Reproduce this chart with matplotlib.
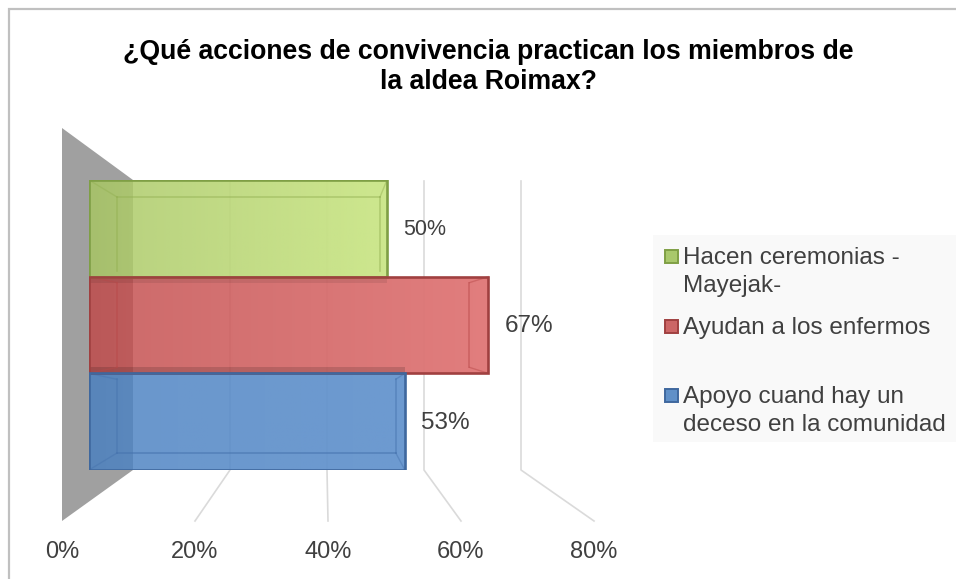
"""Barras horizontales estilo 3D: acciones de convivencia en la aldea Roimax."""

import matplotlib

matplotlib.use("Agg")
matplotlib.rcParams["font.family"] = ["Liberation Sans", "DejaVu Sans"]
import matplotlib.patches as mpatches
import matplotlib.pyplot as plt
import numpy as np
from matplotlib.colors import to_rgba

TITLE = "¿Qué acciones de convivencia practican los miembros de\nla aldea Roimax?"
categories = ["Hacen ceremonias -\nMayejak-", "Ayudan a los enfermos", "Apoyo cuand hay un\ndeceso en la comunidad"]
values = [50, 67, 53]
value_labels = ["50%", "67%", "53%"]
label_sizes = [15.5, 17.5, 17.5]
ticks = [0, 20, 40, 60, 80]
tick_labels = ["0%", "20%", "40%", "60%", "80%"]

faces = ["#A8C662", "#C14949", "#4980C1"]
swatches = ["#A9C86C", "#CC6666", "#6090C8"]
edges = ["#7F9F45", "#A04040", "#3F689E"]
inner = ["#93B052", "#B84848", "#4673AE"]
shine = ["#D0EA90", "#E48080", "#6E9BD1"]
legend_y = [258, 328, 397]
TEXT = "#404040"

W, H = 956, 579
# pixeles del plano frontal de las barras
X0, PX_PER_PCT = 89, 5.96
Y_TOP, Y_BOTTOM = 180, 470

fig = plt.figure(figsize=(W / 100, H / 100), dpi=100, facecolor="white")

# capa de fondo en pixeles: marco, pared, rejilla, titulo, leyenda
bg = fig.add_axes([0, 0, 1, 1])
bg.set_xlim(0, W)
bg.set_ylim(H, 0)
bg.axis("off")

bg.plot([9, 9, W], [H, 8.5, 8.5], color="#C0C0C0", lw=1.6, solid_joinstyle="miter")
bg.text(488, 67, TITLE, ha="center", va="center", fontsize=19.2, fontweight="bold", color="black", linespacing=1.2)

bg.add_patch(mpatches.Polygon([(62, 128), (133, 180), (133, 470), (62, 521)], facecolor="#A0A0A0", edgecolor="none"))

for t, lab in zip(ticks, tick_labels):
    back_x = 133 + 4.85 * t
    front_x = 62 + 6.65 * t
    if t > 0:
        bg.plot([back_x, back_x, front_x], [181, 470, 521], color="#DADADA", lw=1.2)
    bg.text(front_x, 552, lab, ha="center", va="center", fontsize=17, color=TEXT)

# leyenda
bg.add_patch(mpatches.Rectangle((653, 235), W - 653, 207, facecolor="#F9F9F9", edgecolor="none"))
for cat, y, f, e in zip(categories, legend_y, swatches, edges):
    bg.add_patch(mpatches.Rectangle((665, y - 8), 13, 13, facecolor=f, edgecolor=e, lw=1.4))
    for j, line in enumerate(cat.split("\n")):
        bg.text(683, y + j * 28, line, ha="left", va="center", fontsize=17.5, color=TEXT)

# barras sobre el plano frontal
ax = fig.add_axes([X0 / W, 1 - Y_BOTTOM / H, 100 * PX_PER_PCT / W, (Y_BOTTOM - Y_TOP) / H])
ax.patch.set_alpha(0)
ax.axis("off")

for i, (v, f, e, c, s) in enumerate(zip(values, faces, edges, inner, shine)):
    bar = ax.barh(i, v, height=1, color=to_rgba(f, 0.82), edgecolor="none", zorder=3)[0]
    # brillo hacia la derecha con el tono claro de cada barra
    rgba = np.tile(to_rgba(s), (1, 128, 1))
    rgba[..., 3] = np.linspace(0, 0.9, 128)
    im = ax.imshow(rgba, extent=(0, v, i + 0.5, i - 0.5), aspect="auto", zorder=3.1)
    im.set_clip_path(bar)

    # caja interior que da la profundidad
    in_l = 28 / PX_PER_PCT
    in_r = in_l + v * 5.26 / PX_PER_PCT
    in_t = i - 0.5 + (0.176 if i == 0 else 0.062)
    in_b = i + 0.5 - (0.176 if i == 2 else 0.062)
    ax.plot([in_l, in_l], [in_t, in_b], color=c, lw=1.2, alpha=0.5, zorder=4)
    ax.plot([in_r, in_r], [in_t, in_b], color=c, lw=1.2, alpha=0.5, zorder=4)
    if i == 0:
        ax.plot([in_l, in_r], [in_t, in_t], color=c, lw=1.2, alpha=0.5, zorder=4)
    if i == 2:
        ax.plot([in_l, in_r], [in_b, in_b], color=c, lw=1.2, alpha=0.6, zorder=4)
    for cx, ix in ((0, in_l), (v, in_r)):
        ax.plot([cx, ix], [i - 0.5, in_t], color=c, lw=1.0, alpha=0.45, zorder=4)
        if i > 0:
            ax.plot([cx, ix], [i + 0.5, in_b], color=c, lw=1.0, alpha=0.45, zorder=4)

    ax.annotate(
        value_labels[i],
        xy=(v, i),
        xytext=(11.5, -1),
        textcoords="offset points",
        ha="left",
        va="center",
        fontsize=label_sizes[i],
        color=TEXT,
    )

# franjas oscuras donde la barra roja se cruza con sus vecinas
ax.barh(1 - 0.469, min(values[0], values[1]), height=0.062, color="black", alpha=0.08, zorder=3.5)
ax.barh(1 + 0.469, min(values[2], values[1]), height=0.062, color="black", alpha=0.14, zorder=3.5)

# contornos encima del brillo
for i, (v, e) in enumerate(zip(values, edges)):
    ax.barh(i, v, height=1, fill=False, edgecolor=e, linewidth=1.9, zorder=5)

ax.set_xlim(0, 100)
ax.set_ylim(len(values) - 0.5, -0.5)

fig.savefig("out.png", dpi=100, facecolor="white")
